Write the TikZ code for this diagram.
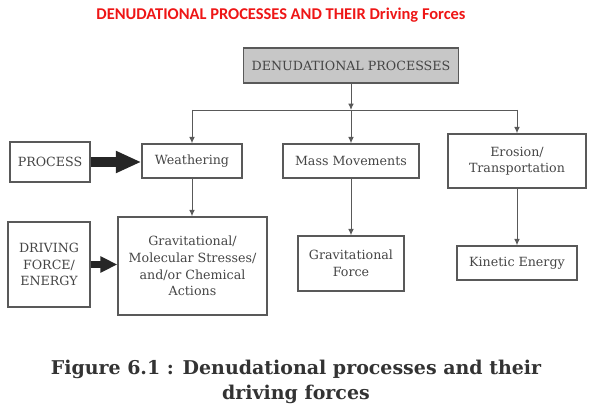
\documentclass[tikz,border=0pt]{standalone}
\usepackage{fontspec}
\setmainfont{DejaVu Serif}
\newfontfamily\titlefont{Carlito}
\usetikzlibrary{arrows.meta}
\definecolor{boxgray}{gray}{0.78}
\definecolor{textgray}{gray}{0.27}
\definecolor{linegray}{gray}{0.35}
\definecolor{titlered}{RGB}{238,22,22}
\tikzstyle{block} = [rectangle, draw=linegray, line width=1pt, text=textgray,
    font=\fontsize{9}{11.8}\selectfont, align=center, inner sep=2pt]
\tikzstyle{line} = [draw=linegray, line width=0.7pt, -{Latex[length=4.5pt,width=4pt]}]
\tikzstyle{bigline} = [draw=black!85, line width=7pt, -{Triangle[length=18pt,width=14.5pt]}]
\tikzstyle{smallbigline} = [draw=black!85, line width=5.5pt, -{Triangle[length=12pt,width=11pt]}]

\begin{document}
\begin{tikzpicture}[x=0.025cm, y=-0.025cm]
    \useasboundingbox (0,0) rectangle (594,413);
    % Place nodes
    \node [font=\titlefont\bfseries\fontsize{11.7}{13}\selectfont, text=titlered] (title) at (281,15.5) {DENUDATIONAL PROCESSES AND THEIR Driving Forces};

    \node [block, fill=boxgray, minimum width=5.375cm, minimum height=0.875cm] (denudation) at (351,65.5) {DENUDATIONAL PROCESSES};
    \coordinate (bus) at (351,110);

    \node [block, minimum width=2.5cm, minimum height=0.85cm] (weathering) at (192,161) {Weathering};
    \node [block, minimum width=3.4cm, minimum height=0.85cm] (mass) at (351,161) {Mass Movements};
    \node [block, minimum width=3.45cm, minimum height=1.35cm] (erosion) at (517,161) {Erosion/\\ Transportation};
    \node [block, minimum width=2cm, minimum height=1cm] (process) at (50,162) {PROCESS};

    \node [block, minimum width=2.05cm, minimum height=2.125cm] (driving) at (49,264.5) {DRIVING\\ FORCE/\\ ENERGY};
    \node [block, minimum width=3.725cm, minimum height=2.45cm] (gravity) at (192.5,266) {Gravitational/\\ Molecular Stresses/\\ and/or Chemical\\ Actions};
    \node [block, minimum width=2.65cm, minimum height=1.375cm] (gravforce) at (351,263.5) {Gravitational\\ Force};
    \node [block, minimum width=3cm, minimum height=0.85cm] (kinetic) at (517,263) {Kinetic Energy};

    \node [font=\bfseries\fontsize{13.5}{17.8}\selectfont, text=black!80, align=center] (caption) at (296,382) {Figure 6.1 : Denudational processes and their\\ driving forces};

    % Draw edges
    \path [line] (denudation) -- (denudation |- bus);
    \draw [linegray, line width=0.7pt] (weathering |- bus) -- (erosion |- bus);
    \path [line] (weathering |- bus) -- (weathering);
    \path [line] (mass |- bus) -- (mass);
    \path [line] (erosion |- bus) -- (erosion);

    \path [line] (weathering) -- (weathering |- gravity.north);
    \path [line] (mass) -- (mass |- gravforce.north);
    \path [line] (erosion) -- (erosion |- kinetic.north);

    \path [bigline] (process) -- (process -| weathering.west);
    \path [smallbigline] (driving) -- (driving -| gravity.west);
\end{tikzpicture}
\end{document}
